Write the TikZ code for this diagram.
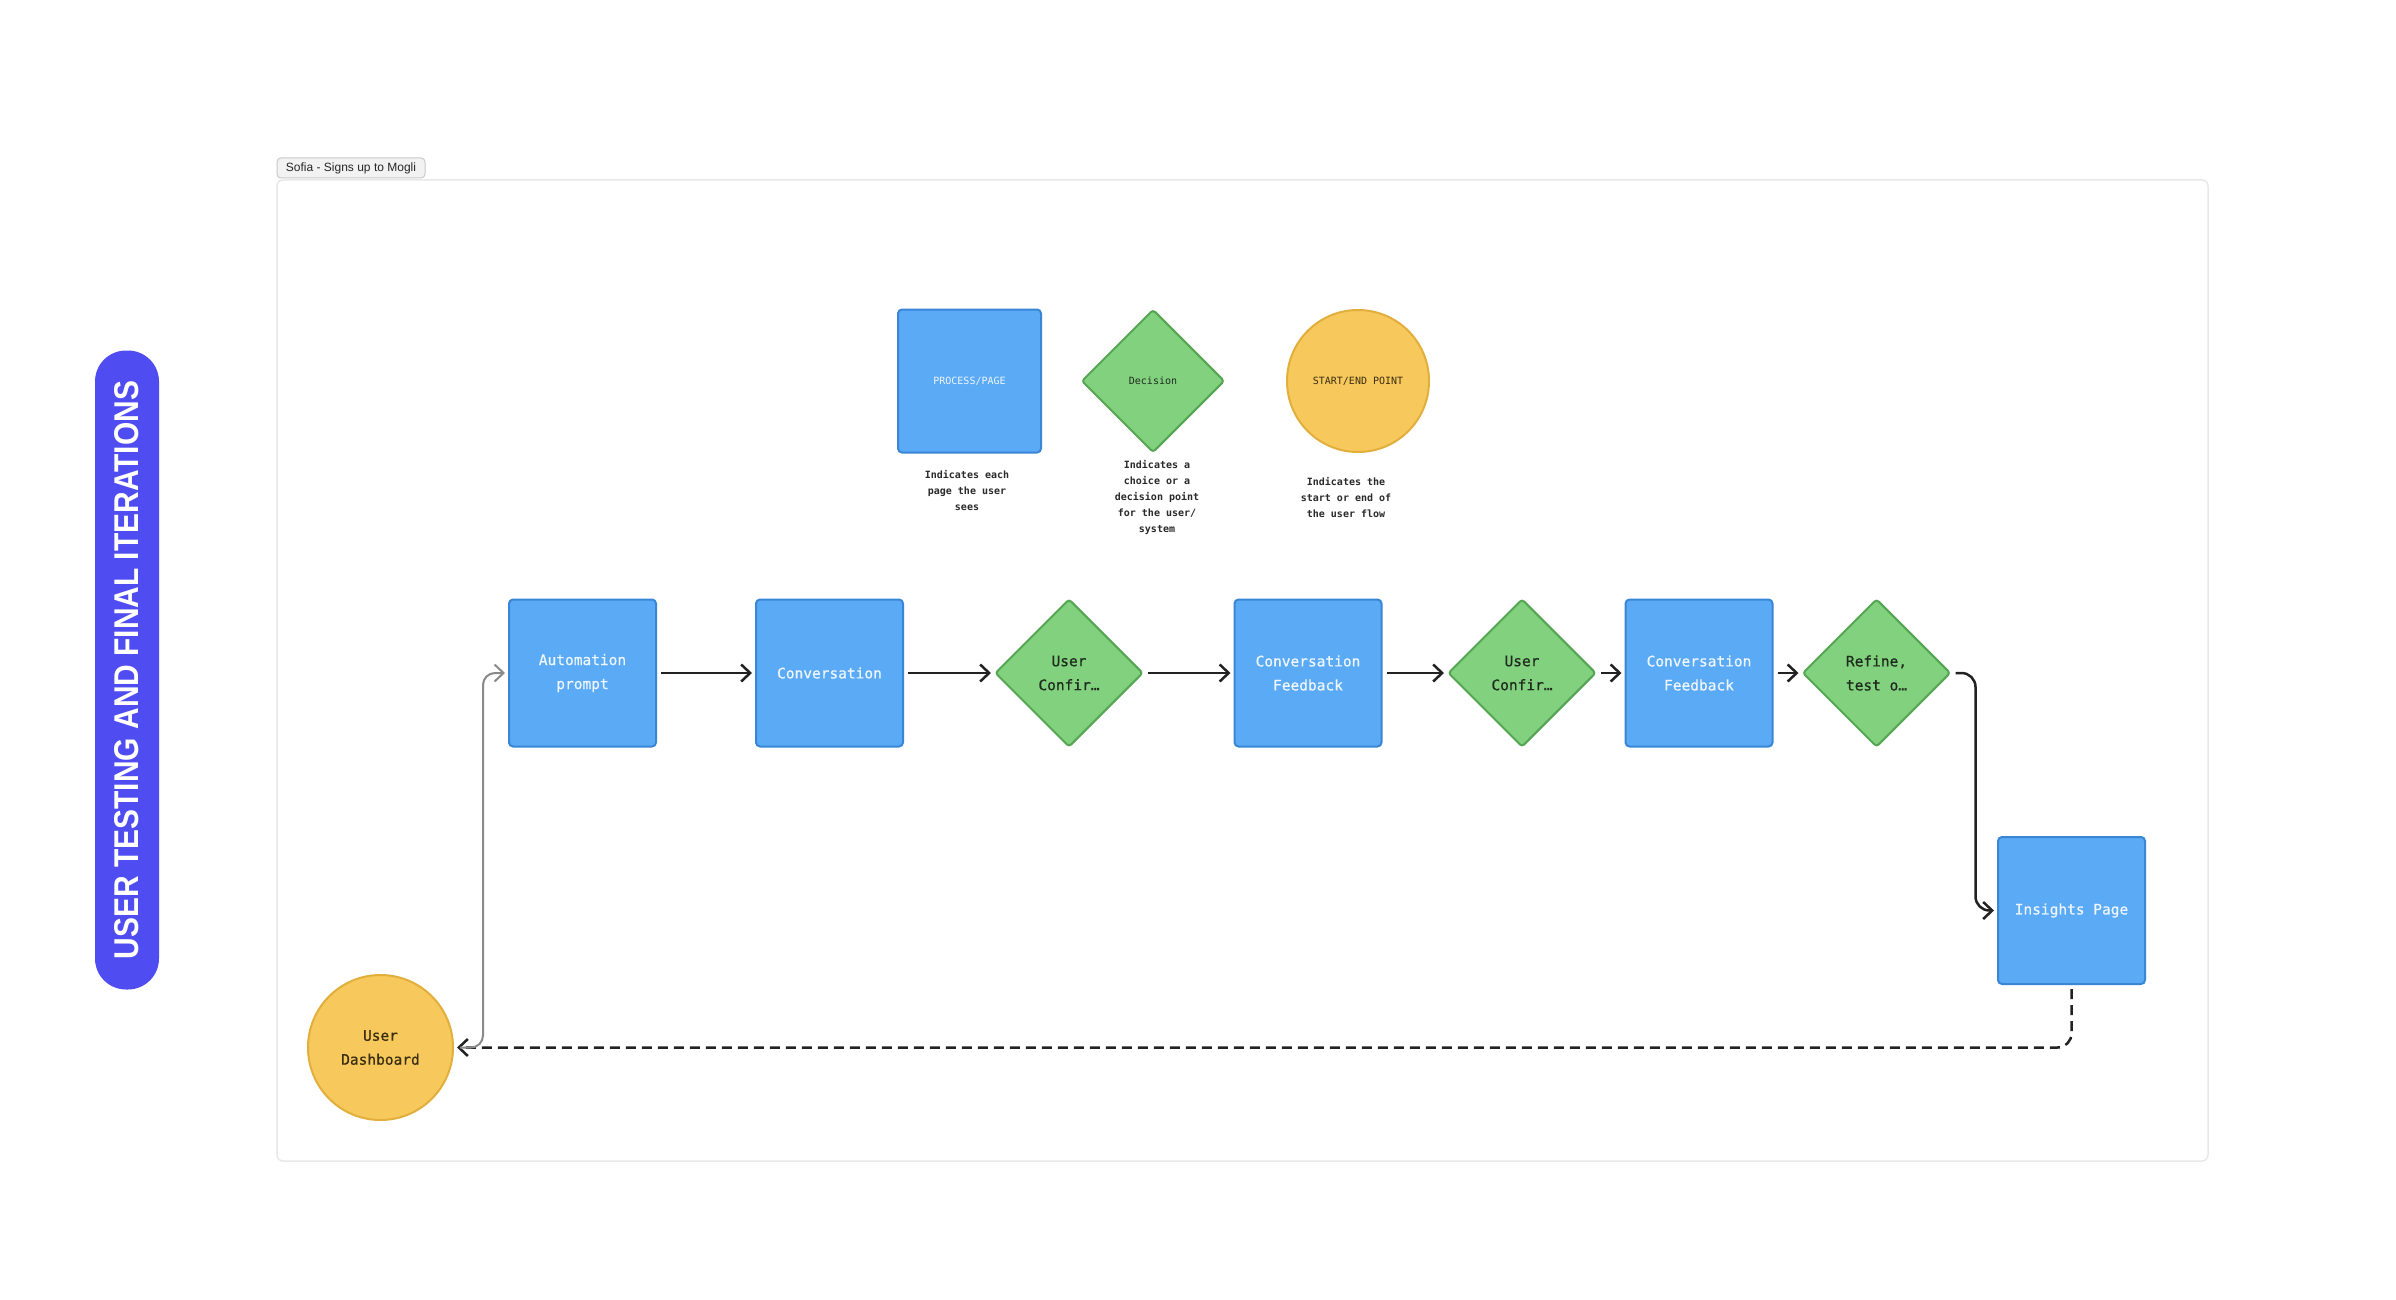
\documentclass[tikz,border=0pt]{standalone}
\usepackage{fontspec}
\usepackage{graphicx}
\setmainfont{Liberation Sans}
\newfontfamily\dmono{DejaVu Sans Mono}
\newfontfamily\dmonom[FakeBold=0.6]{DejaVu Sans Mono}
\usetikzlibrary{shapes.geometric,arrows.meta}
\definecolor{boxblue}{HTML}{5BAAF5}
\definecolor{boxblueline}{HTML}{3A86D6}
\definecolor{boxtext}{HTML}{EEF6FF}
\definecolor{greenfill}{HTML}{82D17E}
\definecolor{greenline}{HTML}{54A652}
\definecolor{greentext}{HTML}{1E2B1D}
\definecolor{yellowfill}{HTML}{F7C95C}
\definecolor{yellowline}{HTML}{E2AE3C}
\definecolor{yellowtext}{HTML}{3A2E12}
\definecolor{pillblue}{HTML}{4F4DF2}
\definecolor{arrowblack}{HTML}{222222}
\definecolor{arrowgrey}{HTML}{8A8A8A}
\definecolor{framegrey}{HTML}{E8E8E8}
\definecolor{labelfill}{HTML}{F2F2F2}
\definecolor{labelline}{HTML}{C9C9C9}
\definecolor{captext}{HTML}{2A2A2A}
\begin{document}
\begin{tikzpicture}[x=1pt,y=-1pt,
  procbox/.style={draw=boxblueline, fill=boxblue, line width=2pt, rounded corners=4pt,
    minimum width=147pt, minimum height=147pt, inner sep=0pt, text=boxtext,
    font=\dmonom\fontsize{14.5}{24}\selectfont, align=center},
  decbox/.style={diamond, aspect=1, draw=greenline, fill=greenfill, line width=2pt, rounded corners=3pt,
    minimum width=148pt, minimum height=148pt, inner sep=0pt, text=greentext,
    font=\dmonom\fontsize{14.5}{24}\selectfont, align=center},
  endbox/.style={circle, draw=yellowline, fill=yellowfill, line width=2pt,
    minimum size=145pt, inner sep=0pt, text=yellowtext,
    font=\dmonom\fontsize{14.5}{24}\selectfont, align=center},
  legfont/.style={font=\dmono\fontsize{10}{14}\selectfont},
  caption/.style={font=\dmono\bfseries\fontsize{10}{16}\selectfont, text=captext, align=center},
  flow/.style={draw=arrowblack, line width=2.5pt, shorten <=4pt, shorten >=3pt,
    -{Straight Barb[length=9pt,width=17pt]}},
  greyflow/.style={draw=arrowgrey, line width=2pt, shorten >=3pt,
    -{Straight Barb[length=9pt,width=17pt]}},
]
\useasboundingbox (0,0) rectangle (2396,1300);
\fill[white] (0,0) rectangle (2396,1300);

% side pill
\node[rotate=90, fill=pillblue, rounded corners=31pt, minimum width=639pt, minimum height=64pt,
  inner sep=0pt, text=white] (pill) at (127,670)
  {\resizebox{578pt}{24pt}{\bfseries USER TESTING AND FINAL ITERATIONS}};

% frame and label
\draw[draw=framegrey, line width=1.5pt, rounded corners=6pt] (277,180) rectangle (2208,1161);
\node[draw=labelline, fill=labelfill, line width=1pt, rounded corners=4pt, minimum width=148pt,
  minimum height=20pt, inner sep=0pt, font=\fontsize{12}{14}\selectfont, text=black!85] (lbl) at (351,168)
  {Sofia - Signs up to Mogli};

% legend
\node[procbox, legfont, minimum width=143pt, minimum height=143pt] (lproc) at (969.5,381) {PROCESS/PAGE};
\node[decbox, legfont, minimum width=143pt, minimum height=143pt] (ldec) at (1153,381) {Decision};
\node[endbox, legfont, minimum size=142pt] (lend) at (1358,381) {START/END POINT};
\node[caption] (cproc) at (967,491) {Indicates each\\page the user\\sees};
\node[caption] (cdec) at (1157,497) {Indicates a\\choice or a\\decision point\\for the user/\\system};
\node[caption] (cend) at (1346,498) {Indicates the\\start or end of\\the user flow};

% main flow
\node[procbox] (auto) at (582.5,673) {Automation\\prompt};
\node[procbox] (conv) at (829.5,673) {Conversation};
\node[decbox] (uc1) at (1069,673) {User\\Confir…};
\node[procbox] (cf1) at (1308,673) {Conversation\\Feedback};
\node[decbox] (uc2) at (1522,673) {User\\Confir…};
\node[procbox] (cf2) at (1699,673) {Conversation\\Feedback};
\node[decbox] (ref) at (1876.5,673) {Refine,\\test o…};
\node[procbox] (ins) at (2071.5,910.5) {Insights Page};
\node[endbox] (dash) at (380.5,1047.5) {User\\Dashboard};

\draw[flow] (auto) -- (conv);
\draw[flow] (conv) -- (uc1);
\draw[flow] (uc1) -- (cf1);
\draw[flow] (cf1) -- (uc2);
\draw[flow] (uc2) -- (cf2);
\draw[flow] (cf2) -- (ref);
\draw[flow, rounded corners=14pt] (ref.east) -- ++(24,0) |- (ins.west);
\draw[flow, dash pattern=on 10pt off 6pt, rounded corners=14pt] (ins.south) |- (dash.east);
\draw[greyflow, rounded corners=12pt] ([xshift=6pt]dash.east) -- ++(23,0) |- (auto.west);
\end{tikzpicture}
\end{document}
